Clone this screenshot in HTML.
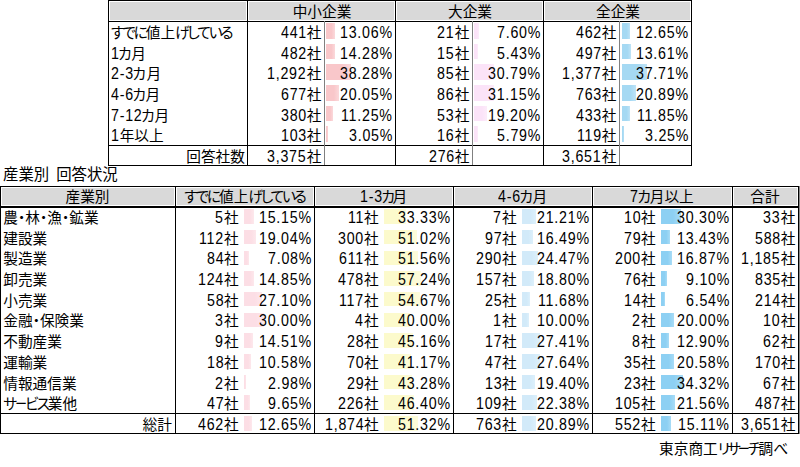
<!DOCTYPE html>
<html lang="ja"><head><meta charset="utf-8"><title>値上げ時期 回答状況</title>
<style>
html,body{margin:0;padding:0;background:#fff;}
body{width:800px;height:467px;position:relative;overflow:hidden;font-family:"Liberation Sans","Noto Sans CJK JP",sans-serif;font-size:14.67px;color:#000;font-feature-settings:"palt";}
.r{position:absolute;}
.t{position:absolute;white-space:nowrap;line-height:20px;height:20px;}
.n{font-size:15.8px;display:inline-block;letter-spacing:0.85px;transform:scaleX(0.9);transform-origin:0 0;}
.d{letter-spacing:0px;}
.cho{display:inline-block;transform:scaleX(.8);margin:0 -1.2px;}
</style></head><body>
<div class="r" style="left:110px;top:2px;width:136px;height:18px;background:#d9d9d9;"></div>
<div class="r" style="left:249px;top:2px;width:145px;height:18px;background:#d9d9d9;"></div>
<div class="r" style="left:397px;top:2px;width:145px;height:18px;background:#d9d9d9;"></div>
<div class="r" style="left:545px;top:2px;width:145px;height:18px;background:#d9d9d9;"></div>
<div class="t" style="left:172.0px;width:300px;top:2px;text-align:center;">中小企業</div>
<div class="t" style="left:320.0px;width:300px;top:2px;text-align:center;">大企業</div>
<div class="t" style="left:468.0px;width:300px;top:2px;text-align:center;">全企業</div>
<div class="t" style="left:111px;top:23px;"><span class="k" style="letter-spacing:-2.12px">すでに</span>値上<span class="k" style="letter-spacing:-2.12px">げしている</span></div>
<div class="r" style="left:326px;top:23px;width:9px;height:16px;background:#f9c7ca;background:linear-gradient(to right,#f9c7ca 0%,#f9c7ca 60%,#fbd9db 100%);"></div>
<div class="t" style="right:478.7px;top:23px;text-align:right;"><span class="n" style="margin-right:-2.89px">441</span>社</div>
<div class="t" style="right:407.3px;top:23px;text-align:right;"><span class="n" style="margin-right:-5.87px">13.06%</span></div>
<div class="r" style="left:474px;top:23px;width:5px;height:16px;background:#fbe3f8;background:linear-gradient(to right,#fbe3f8 0%,#fbe3f8 60%,#fcecfa 100%);"></div>
<div class="t" style="right:330.7px;top:23px;text-align:right;"><span class="n" style="margin-right:-1.93px">21</span>社</div>
<div class="t" style="right:259.29999999999995px;top:23px;text-align:right;"><span class="n" style="margin-right:-4.91px">7.60%</span></div>
<div class="r" style="left:622px;top:23px;width:8px;height:16px;background:#a5d9f3;background:linear-gradient(to right,#a5d9f3 0%,#a5d9f3 60%,#bfe3f6 100%);"></div>
<div class="t" style="right:183.70000000000005px;top:23px;text-align:right;"><span class="n" style="margin-right:-2.89px">462</span>社</div>
<div class="t" style="right:111.29999999999995px;top:23px;text-align:right;"><span class="n" style="margin-right:-5.87px">12.65%</span></div>
<div class="t" style="left:111px;top:44px;"><span class="n" style="margin-right:-0.96px">1</span><span class="k" style="letter-spacing:-0.5px;margin-left:-1.5px">カ</span>月</div>
<div class="r" style="left:326px;top:44px;width:9px;height:15px;background:#f9c7ca;background:linear-gradient(to right,#f9c7ca 0%,#f9c7ca 60%,#fbd9db 100%);"></div>
<div class="t" style="right:478.7px;top:44px;text-align:right;"><span class="n" style="margin-right:-2.89px">482</span>社</div>
<div class="t" style="right:407.3px;top:44px;text-align:right;"><span class="n" style="margin-right:-5.87px">14.28%</span></div>
<div class="r" style="left:474px;top:44px;width:4px;height:15px;background:#fbe3f8;background:linear-gradient(to right,#fbe3f8 0%,#fbe3f8 60%,#fcecfa 100%);"></div>
<div class="t" style="right:330.7px;top:44px;text-align:right;"><span class="n" style="margin-right:-1.93px">15</span>社</div>
<div class="t" style="right:259.29999999999995px;top:44px;text-align:right;"><span class="n" style="margin-right:-4.91px">5.43%</span></div>
<div class="r" style="left:622px;top:44px;width:9px;height:15px;background:#a5d9f3;background:linear-gradient(to right,#a5d9f3 0%,#a5d9f3 60%,#bfe3f6 100%);"></div>
<div class="t" style="right:183.70000000000005px;top:44px;text-align:right;"><span class="n" style="margin-right:-2.89px">497</span>社</div>
<div class="t" style="right:111.29999999999995px;top:44px;text-align:right;"><span class="n" style="margin-right:-5.87px">13.61%</span></div>
<div class="t" style="left:111px;top:64px;"><span class="n" style="margin-right:-2.54px">2-3</span><span class="k" style="letter-spacing:0.5px;margin-left:-1.5px">カ</span>月</div>
<div class="r" style="left:326px;top:64px;width:25px;height:16px;background:#f9c7ca;background:linear-gradient(to right,#f9c7ca 0%,#f9c7ca 60%,#fbd9db 100%);"></div>
<div class="t" style="right:478.7px;top:64px;text-align:right;"><span class="n" style="margin-right:-4.38px">1,292</span>社</div>
<div class="t" style="right:407.3px;top:64px;text-align:right;"><span class="n" style="margin-right:-5.87px">38.28%</span></div>
<div class="r" style="left:474px;top:64px;width:20px;height:16px;background:#fbe3f8;background:linear-gradient(to right,#fbe3f8 0%,#fbe3f8 60%,#fcecfa 100%);"></div>
<div class="t" style="right:330.7px;top:64px;text-align:right;"><span class="n" style="margin-right:-1.93px">85</span>社</div>
<div class="t" style="right:259.29999999999995px;top:64px;text-align:right;"><span class="n" style="margin-right:-5.87px">30.79%</span></div>
<div class="r" style="left:622px;top:64px;width:25px;height:16px;background:#a5d9f3;background:linear-gradient(to right,#a5d9f3 0%,#a5d9f3 60%,#bfe3f6 100%);"></div>
<div class="t" style="right:183.70000000000005px;top:64px;text-align:right;"><span class="n" style="margin-right:-4.38px">1,377</span>社</div>
<div class="t" style="right:111.29999999999995px;top:64px;text-align:right;"><span class="n" style="margin-right:-5.87px">37.71%</span></div>
<div class="t" style="left:111px;top:85px;"><span class="n" style="margin-right:-2.54px">4-6</span><span class="k" style="letter-spacing:-0.5px;margin-left:-1.5px">カ</span>月</div>
<div class="r" style="left:326px;top:85px;width:13px;height:16px;background:#f9c7ca;background:linear-gradient(to right,#f9c7ca 0%,#f9c7ca 60%,#fbd9db 100%);"></div>
<div class="t" style="right:478.7px;top:85px;text-align:right;"><span class="n" style="margin-right:-2.89px">677</span>社</div>
<div class="t" style="right:407.3px;top:85px;text-align:right;"><span class="n" style="margin-right:-5.87px">20.05%</span></div>
<div class="r" style="left:474px;top:85px;width:20px;height:16px;background:#fbe3f8;background:linear-gradient(to right,#fbe3f8 0%,#fbe3f8 60%,#fcecfa 100%);"></div>
<div class="t" style="right:330.7px;top:85px;text-align:right;"><span class="n" style="margin-right:-1.93px">86</span>社</div>
<div class="t" style="right:259.29999999999995px;top:85px;text-align:right;"><span class="n" style="margin-right:-5.87px">31.15%</span></div>
<div class="r" style="left:622px;top:85px;width:14px;height:16px;background:#a5d9f3;background:linear-gradient(to right,#a5d9f3 0%,#a5d9f3 60%,#bfe3f6 100%);"></div>
<div class="t" style="right:183.70000000000005px;top:85px;text-align:right;"><span class="n" style="margin-right:-2.89px">763</span>社</div>
<div class="t" style="right:111.29999999999995px;top:85px;text-align:right;"><span class="n" style="margin-right:-5.87px">20.89%</span></div>
<div class="t" style="left:111px;top:106px;"><span class="n" style="margin-right:-3.50px">7-12</span><span class="k" style="letter-spacing:-0.1px;margin-left:-1.5px">カ</span>月</div>
<div class="r" style="left:326px;top:106px;width:7px;height:15px;background:#f9c7ca;background:linear-gradient(to right,#f9c7ca 0%,#f9c7ca 60%,#fbd9db 100%);"></div>
<div class="t" style="right:478.7px;top:106px;text-align:right;"><span class="n" style="margin-right:-2.89px">380</span>社</div>
<div class="t" style="right:407.3px;top:106px;text-align:right;"><span class="n" style="margin-right:-5.87px">11.25%</span></div>
<div class="r" style="left:474px;top:106px;width:13px;height:15px;background:#fbe3f8;background:linear-gradient(to right,#fbe3f8 0%,#fbe3f8 60%,#fcecfa 100%);"></div>
<div class="t" style="right:330.7px;top:106px;text-align:right;"><span class="n" style="margin-right:-1.93px">53</span>社</div>
<div class="t" style="right:259.29999999999995px;top:106px;text-align:right;"><span class="n" style="margin-right:-5.87px">19.20%</span></div>
<div class="r" style="left:622px;top:106px;width:8px;height:15px;background:#a5d9f3;background:linear-gradient(to right,#a5d9f3 0%,#a5d9f3 60%,#bfe3f6 100%);"></div>
<div class="t" style="right:183.70000000000005px;top:106px;text-align:right;"><span class="n" style="margin-right:-2.89px">433</span>社</div>
<div class="t" style="right:111.29999999999995px;top:106px;text-align:right;"><span class="n" style="margin-right:-5.87px">11.85%</span></div>
<div class="t" style="left:111px;top:126px;"><span class="n" style="margin-right:-0.96px">1</span>年以上</div>
<div class="r" style="left:326px;top:126px;width:2px;height:16px;background:#f9c7ca;background:linear-gradient(to right,#f9c7ca 0%,#f9c7ca 60%,#fbd9db 100%);"></div>
<div class="t" style="right:478.7px;top:126px;text-align:right;"><span class="n" style="margin-right:-2.89px">103</span>社</div>
<div class="t" style="right:407.3px;top:126px;text-align:right;"><span class="n" style="margin-right:-4.91px">3.05%</span></div>
<div class="r" style="left:474px;top:126px;width:4px;height:16px;background:#fbe3f8;background:linear-gradient(to right,#fbe3f8 0%,#fbe3f8 60%,#fcecfa 100%);"></div>
<div class="t" style="right:330.7px;top:126px;text-align:right;"><span class="n" style="margin-right:-1.93px">16</span>社</div>
<div class="t" style="right:259.29999999999995px;top:126px;text-align:right;"><span class="n" style="margin-right:-4.91px">5.79%</span></div>
<div class="r" style="left:622px;top:126px;width:2px;height:16px;background:#a5d9f3;background:linear-gradient(to right,#a5d9f3 0%,#a5d9f3 60%,#bfe3f6 100%);"></div>
<div class="t" style="right:183.70000000000005px;top:126px;text-align:right;"><span class="n" style="margin-right:-2.89px">119</span>社</div>
<div class="t" style="right:111.29999999999995px;top:126px;text-align:right;"><span class="n" style="margin-right:-4.91px">3.25%</span></div>
<div class="t" style="right:555.1px;top:147px;text-align:right;">回答社数</div>
<div class="t" style="right:478.7px;top:147px;text-align:right;"><span class="n" style="margin-right:-4.38px">3,375</span>社</div>
<div class="t" style="right:330.7px;top:147px;text-align:right;"><span class="n" style="margin-right:-2.89px">276</span>社</div>
<div class="t" style="right:183.70000000000005px;top:147px;text-align:right;"><span class="n" style="margin-right:-4.38px">3,651</span>社</div>
<div class="r" style="left:108px;top:0px;width:584px;height:1px;background:#000;"></div>
<div class="r" style="left:108px;top:21px;width:584px;height:1px;background:#000;"></div>
<div class="r" style="left:108px;top:145px;width:584px;height:1px;background:#000;"></div>
<div class="r" style="left:108px;top:165px;width:584px;height:1px;background:#000;"></div>
<div class="r" style="left:108px;top:0px;width:1px;height:166px;background:#000;"></div>
<div class="r" style="left:247px;top:0px;width:1px;height:166px;background:#000;"></div>
<div class="r" style="left:395px;top:0px;width:1px;height:166px;background:#000;"></div>
<div class="r" style="left:543px;top:0px;width:1px;height:166px;background:#000;"></div>
<div class="r" style="left:691px;top:0px;width:1px;height:166px;background:#000;"></div>
<div class="r" style="left:324px;top:21px;width:1px;height:144px;background:#808080;"></div>
<div class="r" style="left:472px;top:21px;width:1px;height:144px;background:#808080;"></div>
<div class="r" style="left:619px;top:21px;width:1px;height:144px;background:#808080;"></div>
<div class="t" style="left:3px;top:165px;font-size:15.4px;">産業別<span style="display:inline-block;width:7px"></span>回答状況</div>
<div class="r" style="left:2px;top:188px;width:172px;height:17px;background:#d9d9d9;"></div>
<div class="r" style="left:177px;top:188px;width:136px;height:17px;background:#d9d9d9;"></div>
<div class="r" style="left:316px;top:188px;width:136px;height:17px;background:#d9d9d9;"></div>
<div class="r" style="left:455px;top:188px;width:136px;height:17px;background:#d9d9d9;"></div>
<div class="r" style="left:594px;top:188px;width:137px;height:17px;background:#d9d9d9;"></div>
<div class="r" style="left:734px;top:188px;width:63px;height:17px;background:#d9d9d9;"></div>
<div class="t" style="left:-62.5px;width:300px;top:187px;text-align:center;">産業別</div>
<div class="t" style="left:94.5px;width:300px;top:187px;text-align:center;"><span class="k" style="letter-spacing:-2.12px">すでに</span>値上<span class="k" style="letter-spacing:-2.12px">げしている</span></div>
<div class="t" style="left:233.5px;width:300px;top:187px;text-align:center;"><span class="n" style="margin-right:-2.54px">1-3</span><span class="k" style="letter-spacing:-2.5px;margin-left:-1.5px">カ</span>月</div>
<div class="t" style="left:372.5px;width:300px;top:187px;text-align:center;"><span class="n" style="margin-right:-2.54px">4-6</span><span class="k" style="letter-spacing:-0.5px;margin-left:-1.5px">カ</span>月</div>
<div class="t" style="left:512.0px;width:300px;top:187px;text-align:center;"><span class="n" style="margin-right:-0.96px">7</span><span class="k" style="letter-spacing:-1.2px;margin-left:-1.5px">カ</span>月以上</div>
<div class="t" style="left:615.0px;width:300px;top:187px;text-align:center;">合計</div>
<div class="t" style="left:3.3px;top:208px;">農<span class="d">・</span>林<span class="d">・</span>漁<span class="d">・</span>鉱業</div>
<div class="r" style="left:244px;top:209px;width:10px;height:15px;background:#fcdee5;background:linear-gradient(to right,#fcdee5 0%,#fcdee5 60%,#fde8ec 100%);"></div>
<div class="t" style="right:561.4px;top:208px;text-align:right;"><span class="n" style="margin-right:-0.96px">5</span>社</div>
<div class="t" style="right:488.1px;top:208px;text-align:right;"><span class="n" style="margin-right:-5.87px">15.15%</span></div>
<div class="r" style="left:384px;top:209px;width:22px;height:15px;background:#fcfacc;background:linear-gradient(to right,#fcfacc 0%,#fcfacc 60%,#fdfcdc 100%);"></div>
<div class="t" style="right:421.4px;top:208px;text-align:right;"><span class="n" style="margin-right:-1.93px">11</span>社</div>
<div class="t" style="right:349.1px;top:208px;text-align:right;"><span class="n" style="margin-right:-5.87px">33.33%</span></div>
<div class="r" style="left:522px;top:209px;width:14px;height:15px;background:#d2eaf9;background:linear-gradient(to right,#d2eaf9 0%,#d2eaf9 60%,#ddf0fb 100%);"></div>
<div class="t" style="right:283.4px;top:208px;text-align:right;"><span class="n" style="margin-right:-0.96px">7</span>社</div>
<div class="t" style="right:210.10000000000002px;top:208px;text-align:right;"><span class="n" style="margin-right:-5.87px">21.21%</span></div>
<div class="r" style="left:661px;top:209px;width:20px;height:15px;background:#8dd0f3;background:linear-gradient(to right,#8dd0f3 0%,#8dd0f3 60%,#a9dcf6 100%);"></div>
<div class="t" style="right:144.39999999999998px;top:208px;text-align:right;"><span class="n" style="margin-right:-1.93px">10</span>社</div>
<div class="t" style="right:70.10000000000002px;top:208px;text-align:right;"><span class="n" style="margin-right:-5.87px">30.30%</span></div>
<div class="t" style="right:4.600000000000023px;top:208px;text-align:right;"><span class="n" style="margin-right:-1.93px">33</span>社</div>
<div class="t" style="left:3.3px;top:229px;">建設業</div>
<div class="r" style="left:244px;top:230px;width:12px;height:14px;background:#fcdee5;background:linear-gradient(to right,#fcdee5 0%,#fcdee5 60%,#fde8ec 100%);"></div>
<div class="t" style="right:561.4px;top:229px;text-align:right;"><span class="n" style="margin-right:-2.89px">112</span>社</div>
<div class="t" style="right:488.1px;top:229px;text-align:right;"><span class="n" style="margin-right:-5.87px">19.04%</span></div>
<div class="r" style="left:384px;top:230px;width:33px;height:14px;background:#fcfacc;background:linear-gradient(to right,#fcfacc 0%,#fcfacc 60%,#fdfcdc 100%);"></div>
<div class="t" style="right:421.4px;top:229px;text-align:right;"><span class="n" style="margin-right:-2.89px">300</span>社</div>
<div class="t" style="right:349.1px;top:229px;text-align:right;"><span class="n" style="margin-right:-5.87px">51.02%</span></div>
<div class="r" style="left:522px;top:230px;width:11px;height:14px;background:#d2eaf9;background:linear-gradient(to right,#d2eaf9 0%,#d2eaf9 60%,#ddf0fb 100%);"></div>
<div class="t" style="right:283.4px;top:229px;text-align:right;"><span class="n" style="margin-right:-1.93px">97</span>社</div>
<div class="t" style="right:210.10000000000002px;top:229px;text-align:right;"><span class="n" style="margin-right:-5.87px">16.49%</span></div>
<div class="r" style="left:661px;top:230px;width:9px;height:14px;background:#8dd0f3;background:linear-gradient(to right,#8dd0f3 0%,#8dd0f3 60%,#a9dcf6 100%);"></div>
<div class="t" style="right:144.39999999999998px;top:229px;text-align:right;"><span class="n" style="margin-right:-1.93px">79</span>社</div>
<div class="t" style="right:70.10000000000002px;top:229px;text-align:right;"><span class="n" style="margin-right:-5.87px">13.43%</span></div>
<div class="t" style="right:4.600000000000023px;top:229px;text-align:right;"><span class="n" style="margin-right:-2.89px">588</span>社</div>
<div class="t" style="left:3.3px;top:249px;">製造業</div>
<div class="r" style="left:244px;top:251px;width:5px;height:14px;background:#fcdee5;background:linear-gradient(to right,#fcdee5 0%,#fcdee5 60%,#fde8ec 100%);"></div>
<div class="t" style="right:561.4px;top:249px;text-align:right;"><span class="n" style="margin-right:-1.93px">84</span>社</div>
<div class="t" style="right:488.1px;top:249px;text-align:right;"><span class="n" style="margin-right:-4.91px">7.08%</span></div>
<div class="r" style="left:384px;top:251px;width:34px;height:14px;background:#fcfacc;background:linear-gradient(to right,#fcfacc 0%,#fcfacc 60%,#fdfcdc 100%);"></div>
<div class="t" style="right:421.4px;top:249px;text-align:right;"><span class="n" style="margin-right:-2.89px">611</span>社</div>
<div class="t" style="right:349.1px;top:249px;text-align:right;"><span class="n" style="margin-right:-5.87px">51.56%</span></div>
<div class="r" style="left:522px;top:251px;width:16px;height:14px;background:#d2eaf9;background:linear-gradient(to right,#d2eaf9 0%,#d2eaf9 60%,#ddf0fb 100%);"></div>
<div class="t" style="right:283.4px;top:249px;text-align:right;"><span class="n" style="margin-right:-2.89px">290</span>社</div>
<div class="t" style="right:210.10000000000002px;top:249px;text-align:right;"><span class="n" style="margin-right:-5.87px">24.47%</span></div>
<div class="r" style="left:661px;top:251px;width:11px;height:14px;background:#8dd0f3;background:linear-gradient(to right,#8dd0f3 0%,#8dd0f3 60%,#a9dcf6 100%);"></div>
<div class="t" style="right:144.39999999999998px;top:249px;text-align:right;"><span class="n" style="margin-right:-2.89px">200</span>社</div>
<div class="t" style="right:70.10000000000002px;top:249px;text-align:right;"><span class="n" style="margin-right:-5.87px">16.87%</span></div>
<div class="t" style="right:4.600000000000023px;top:249px;text-align:right;"><span class="n" style="margin-right:-4.38px">1,185</span>社</div>
<div class="t" style="left:3.3px;top:270px;">卸売業</div>
<div class="r" style="left:244px;top:271px;width:10px;height:15px;background:#fcdee5;background:linear-gradient(to right,#fcdee5 0%,#fcdee5 60%,#fde8ec 100%);"></div>
<div class="t" style="right:561.4px;top:270px;text-align:right;"><span class="n" style="margin-right:-2.89px">124</span>社</div>
<div class="t" style="right:488.1px;top:270px;text-align:right;"><span class="n" style="margin-right:-5.87px">14.85%</span></div>
<div class="r" style="left:384px;top:271px;width:37px;height:15px;background:#fcfacc;background:linear-gradient(to right,#fcfacc 0%,#fcfacc 60%,#fdfcdc 100%);"></div>
<div class="t" style="right:421.4px;top:270px;text-align:right;"><span class="n" style="margin-right:-2.89px">478</span>社</div>
<div class="t" style="right:349.1px;top:270px;text-align:right;"><span class="n" style="margin-right:-5.87px">57.24%</span></div>
<div class="r" style="left:522px;top:271px;width:12px;height:15px;background:#d2eaf9;background:linear-gradient(to right,#d2eaf9 0%,#d2eaf9 60%,#ddf0fb 100%);"></div>
<div class="t" style="right:283.4px;top:270px;text-align:right;"><span class="n" style="margin-right:-2.89px">157</span>社</div>
<div class="t" style="right:210.10000000000002px;top:270px;text-align:right;"><span class="n" style="margin-right:-5.87px">18.80%</span></div>
<div class="r" style="left:661px;top:271px;width:6px;height:15px;background:#8dd0f3;background:linear-gradient(to right,#8dd0f3 0%,#8dd0f3 60%,#a9dcf6 100%);"></div>
<div class="t" style="right:144.39999999999998px;top:270px;text-align:right;"><span class="n" style="margin-right:-1.93px">76</span>社</div>
<div class="t" style="right:70.10000000000002px;top:270px;text-align:right;"><span class="n" style="margin-right:-4.91px">9.10%</span></div>
<div class="t" style="right:4.600000000000023px;top:270px;text-align:right;"><span class="n" style="margin-right:-2.89px">835</span>社</div>
<div class="t" style="left:3.3px;top:291px;">小売業</div>
<div class="r" style="left:244px;top:292px;width:18px;height:14px;background:#fcdee5;background:linear-gradient(to right,#fcdee5 0%,#fcdee5 60%,#fde8ec 100%);"></div>
<div class="t" style="right:561.4px;top:291px;text-align:right;"><span class="n" style="margin-right:-1.93px">58</span>社</div>
<div class="t" style="right:488.1px;top:291px;text-align:right;"><span class="n" style="margin-right:-5.87px">27.10%</span></div>
<div class="r" style="left:384px;top:292px;width:36px;height:14px;background:#fcfacc;background:linear-gradient(to right,#fcfacc 0%,#fcfacc 60%,#fdfcdc 100%);"></div>
<div class="t" style="right:421.4px;top:291px;text-align:right;"><span class="n" style="margin-right:-2.89px">117</span>社</div>
<div class="t" style="right:349.1px;top:291px;text-align:right;"><span class="n" style="margin-right:-5.87px">54.67%</span></div>
<div class="r" style="left:522px;top:292px;width:8px;height:14px;background:#d2eaf9;background:linear-gradient(to right,#d2eaf9 0%,#d2eaf9 60%,#ddf0fb 100%);"></div>
<div class="t" style="right:283.4px;top:291px;text-align:right;"><span class="n" style="margin-right:-1.93px">25</span>社</div>
<div class="t" style="right:210.10000000000002px;top:291px;text-align:right;"><span class="n" style="margin-right:-5.87px">11.68%</span></div>
<div class="r" style="left:661px;top:292px;width:4px;height:14px;background:#8dd0f3;background:linear-gradient(to right,#8dd0f3 0%,#8dd0f3 60%,#a9dcf6 100%);"></div>
<div class="t" style="right:144.39999999999998px;top:291px;text-align:right;"><span class="n" style="margin-right:-1.93px">14</span>社</div>
<div class="t" style="right:70.10000000000002px;top:291px;text-align:right;"><span class="n" style="margin-right:-4.91px">6.54%</span></div>
<div class="t" style="right:4.600000000000023px;top:291px;text-align:right;"><span class="n" style="margin-right:-2.89px">214</span>社</div>
<div class="t" style="left:3.3px;top:311px;">金融<span class="d">・</span>保険業</div>
<div class="r" style="left:244px;top:313px;width:20px;height:14px;background:#fcdee5;background:linear-gradient(to right,#fcdee5 0%,#fcdee5 60%,#fde8ec 100%);"></div>
<div class="t" style="right:561.4px;top:311px;text-align:right;"><span class="n" style="margin-right:-0.96px">3</span>社</div>
<div class="t" style="right:488.1px;top:311px;text-align:right;"><span class="n" style="margin-right:-5.87px">30.00%</span></div>
<div class="r" style="left:384px;top:313px;width:26px;height:14px;background:#fcfacc;background:linear-gradient(to right,#fcfacc 0%,#fcfacc 60%,#fdfcdc 100%);"></div>
<div class="t" style="right:421.4px;top:311px;text-align:right;"><span class="n" style="margin-right:-0.96px">4</span>社</div>
<div class="t" style="right:349.1px;top:311px;text-align:right;"><span class="n" style="margin-right:-5.87px">40.00%</span></div>
<div class="r" style="left:522px;top:313px;width:7px;height:14px;background:#d2eaf9;background:linear-gradient(to right,#d2eaf9 0%,#d2eaf9 60%,#ddf0fb 100%);"></div>
<div class="t" style="right:283.4px;top:311px;text-align:right;"><span class="n" style="margin-right:-0.96px">1</span>社</div>
<div class="t" style="right:210.10000000000002px;top:311px;text-align:right;"><span class="n" style="margin-right:-5.87px">10.00%</span></div>
<div class="r" style="left:661px;top:313px;width:13px;height:14px;background:#8dd0f3;background:linear-gradient(to right,#8dd0f3 0%,#8dd0f3 60%,#a9dcf6 100%);"></div>
<div class="t" style="right:144.39999999999998px;top:311px;text-align:right;"><span class="n" style="margin-right:-0.96px">2</span>社</div>
<div class="t" style="right:70.10000000000002px;top:311px;text-align:right;"><span class="n" style="margin-right:-5.87px">20.00%</span></div>
<div class="t" style="right:4.600000000000023px;top:311px;text-align:right;"><span class="n" style="margin-right:-1.93px">10</span>社</div>
<div class="t" style="left:3.3px;top:332px;">不動産業</div>
<div class="r" style="left:244px;top:333px;width:9px;height:15px;background:#fcdee5;background:linear-gradient(to right,#fcdee5 0%,#fcdee5 60%,#fde8ec 100%);"></div>
<div class="t" style="right:561.4px;top:332px;text-align:right;"><span class="n" style="margin-right:-0.96px">9</span>社</div>
<div class="t" style="right:488.1px;top:332px;text-align:right;"><span class="n" style="margin-right:-5.87px">14.51%</span></div>
<div class="r" style="left:384px;top:333px;width:29px;height:15px;background:#fcfacc;background:linear-gradient(to right,#fcfacc 0%,#fcfacc 60%,#fdfcdc 100%);"></div>
<div class="t" style="right:421.4px;top:332px;text-align:right;"><span class="n" style="margin-right:-1.93px">28</span>社</div>
<div class="t" style="right:349.1px;top:332px;text-align:right;"><span class="n" style="margin-right:-5.87px">45.16%</span></div>
<div class="r" style="left:522px;top:333px;width:18px;height:15px;background:#d2eaf9;background:linear-gradient(to right,#d2eaf9 0%,#d2eaf9 60%,#ddf0fb 100%);"></div>
<div class="t" style="right:283.4px;top:332px;text-align:right;"><span class="n" style="margin-right:-1.93px">17</span>社</div>
<div class="t" style="right:210.10000000000002px;top:332px;text-align:right;"><span class="n" style="margin-right:-5.87px">27.41%</span></div>
<div class="r" style="left:661px;top:333px;width:8px;height:15px;background:#8dd0f3;background:linear-gradient(to right,#8dd0f3 0%,#8dd0f3 60%,#a9dcf6 100%);"></div>
<div class="t" style="right:144.39999999999998px;top:332px;text-align:right;"><span class="n" style="margin-right:-0.96px">8</span>社</div>
<div class="t" style="right:70.10000000000002px;top:332px;text-align:right;"><span class="n" style="margin-right:-5.87px">12.90%</span></div>
<div class="t" style="right:4.600000000000023px;top:332px;text-align:right;"><span class="n" style="margin-right:-1.93px">62</span>社</div>
<div class="t" style="left:3.3px;top:353px;">運輸業</div>
<div class="r" style="left:244px;top:354px;width:7px;height:15px;background:#fcdee5;background:linear-gradient(to right,#fcdee5 0%,#fcdee5 60%,#fde8ec 100%);"></div>
<div class="t" style="right:561.4px;top:353px;text-align:right;"><span class="n" style="margin-right:-1.93px">18</span>社</div>
<div class="t" style="right:488.1px;top:353px;text-align:right;"><span class="n" style="margin-right:-5.87px">10.58%</span></div>
<div class="r" style="left:384px;top:354px;width:27px;height:15px;background:#fcfacc;background:linear-gradient(to right,#fcfacc 0%,#fcfacc 60%,#fdfcdc 100%);"></div>
<div class="t" style="right:421.4px;top:353px;text-align:right;"><span class="n" style="margin-right:-1.93px">70</span>社</div>
<div class="t" style="right:349.1px;top:353px;text-align:right;"><span class="n" style="margin-right:-5.87px">41.17%</span></div>
<div class="r" style="left:522px;top:354px;width:18px;height:15px;background:#d2eaf9;background:linear-gradient(to right,#d2eaf9 0%,#d2eaf9 60%,#ddf0fb 100%);"></div>
<div class="t" style="right:283.4px;top:353px;text-align:right;"><span class="n" style="margin-right:-1.93px">47</span>社</div>
<div class="t" style="right:210.10000000000002px;top:353px;text-align:right;"><span class="n" style="margin-right:-5.87px">27.64%</span></div>
<div class="r" style="left:661px;top:354px;width:13px;height:15px;background:#8dd0f3;background:linear-gradient(to right,#8dd0f3 0%,#8dd0f3 60%,#a9dcf6 100%);"></div>
<div class="t" style="right:144.39999999999998px;top:353px;text-align:right;"><span class="n" style="margin-right:-1.93px">35</span>社</div>
<div class="t" style="right:70.10000000000002px;top:353px;text-align:right;"><span class="n" style="margin-right:-5.87px">20.58%</span></div>
<div class="t" style="right:4.600000000000023px;top:353px;text-align:right;"><span class="n" style="margin-right:-2.89px">170</span>社</div>
<div class="t" style="left:3.3px;top:374px;">情報通信業</div>
<div class="r" style="left:244px;top:375px;width:2px;height:14px;background:#fcdee5;background:linear-gradient(to right,#fcdee5 0%,#fcdee5 60%,#fde8ec 100%);"></div>
<div class="t" style="right:561.4px;top:374px;text-align:right;"><span class="n" style="margin-right:-0.96px">2</span>社</div>
<div class="t" style="right:488.1px;top:374px;text-align:right;"><span class="n" style="margin-right:-4.91px">2.98%</span></div>
<div class="r" style="left:384px;top:375px;width:28px;height:14px;background:#fcfacc;background:linear-gradient(to right,#fcfacc 0%,#fcfacc 60%,#fdfcdc 100%);"></div>
<div class="t" style="right:421.4px;top:374px;text-align:right;"><span class="n" style="margin-right:-1.93px">29</span>社</div>
<div class="t" style="right:349.1px;top:374px;text-align:right;"><span class="n" style="margin-right:-5.87px">43.28%</span></div>
<div class="r" style="left:522px;top:375px;width:13px;height:14px;background:#d2eaf9;background:linear-gradient(to right,#d2eaf9 0%,#d2eaf9 60%,#ddf0fb 100%);"></div>
<div class="t" style="right:283.4px;top:374px;text-align:right;"><span class="n" style="margin-right:-1.93px">13</span>社</div>
<div class="t" style="right:210.10000000000002px;top:374px;text-align:right;"><span class="n" style="margin-right:-5.87px">19.40%</span></div>
<div class="r" style="left:661px;top:375px;width:22px;height:14px;background:#8dd0f3;background:linear-gradient(to right,#8dd0f3 0%,#8dd0f3 60%,#a9dcf6 100%);"></div>
<div class="t" style="right:144.39999999999998px;top:374px;text-align:right;"><span class="n" style="margin-right:-1.93px">23</span>社</div>
<div class="t" style="right:70.10000000000002px;top:374px;text-align:right;"><span class="n" style="margin-right:-5.87px">34.32%</span></div>
<div class="t" style="right:4.600000000000023px;top:374px;text-align:right;"><span class="n" style="margin-right:-1.93px">67</span>社</div>
<div class="t" style="left:3.3px;top:394px;"><span class="k" style="letter-spacing:-2.0px">サ<span class="cho">ー</span>ビス</span>業他</div>
<div class="r" style="left:244px;top:395px;width:6px;height:15px;background:#fcdee5;background:linear-gradient(to right,#fcdee5 0%,#fcdee5 60%,#fde8ec 100%);"></div>
<div class="t" style="right:561.4px;top:394px;text-align:right;"><span class="n" style="margin-right:-1.93px">47</span>社</div>
<div class="t" style="right:488.1px;top:394px;text-align:right;"><span class="n" style="margin-right:-4.91px">9.65%</span></div>
<div class="r" style="left:384px;top:395px;width:30px;height:15px;background:#fcfacc;background:linear-gradient(to right,#fcfacc 0%,#fcfacc 60%,#fdfcdc 100%);"></div>
<div class="t" style="right:421.4px;top:394px;text-align:right;"><span class="n" style="margin-right:-2.89px">226</span>社</div>
<div class="t" style="right:349.1px;top:394px;text-align:right;"><span class="n" style="margin-right:-5.87px">46.40%</span></div>
<div class="r" style="left:522px;top:395px;width:15px;height:15px;background:#d2eaf9;background:linear-gradient(to right,#d2eaf9 0%,#d2eaf9 60%,#ddf0fb 100%);"></div>
<div class="t" style="right:283.4px;top:394px;text-align:right;"><span class="n" style="margin-right:-2.89px">109</span>社</div>
<div class="t" style="right:210.10000000000002px;top:394px;text-align:right;"><span class="n" style="margin-right:-5.87px">22.38%</span></div>
<div class="r" style="left:661px;top:395px;width:14px;height:15px;background:#8dd0f3;background:linear-gradient(to right,#8dd0f3 0%,#8dd0f3 60%,#a9dcf6 100%);"></div>
<div class="t" style="right:144.39999999999998px;top:394px;text-align:right;"><span class="n" style="margin-right:-2.89px">105</span>社</div>
<div class="t" style="right:70.10000000000002px;top:394px;text-align:right;"><span class="n" style="margin-right:-5.87px">21.56%</span></div>
<div class="t" style="right:4.600000000000023px;top:394px;text-align:right;"><span class="n" style="margin-right:-2.89px">487</span>社</div>
<div class="t" style="right:628.2px;top:415px;text-align:right;">総計</div>
<div class="r" style="left:244px;top:416px;width:8px;height:15px;background:#fcdee5;background:linear-gradient(to right,#fcdee5 0%,#fcdee5 60%,#fde8ec 100%);"></div>
<div class="t" style="right:561.4px;top:415px;text-align:right;"><span class="n" style="margin-right:-2.89px">462</span>社</div>
<div class="t" style="right:488.1px;top:415px;text-align:right;"><span class="n" style="margin-right:-5.87px">12.65%</span></div>
<div class="r" style="left:384px;top:416px;width:34px;height:15px;background:#fcfacc;background:linear-gradient(to right,#fcfacc 0%,#fcfacc 60%,#fdfcdc 100%);"></div>
<div class="t" style="right:421.4px;top:415px;text-align:right;"><span class="n" style="margin-right:-4.38px">1,874</span>社</div>
<div class="t" style="right:349.1px;top:415px;text-align:right;"><span class="n" style="margin-right:-5.87px">51.32%</span></div>
<div class="r" style="left:522px;top:416px;width:14px;height:15px;background:#d2eaf9;background:linear-gradient(to right,#d2eaf9 0%,#d2eaf9 60%,#ddf0fb 100%);"></div>
<div class="t" style="right:283.4px;top:415px;text-align:right;"><span class="n" style="margin-right:-2.89px">763</span>社</div>
<div class="t" style="right:210.10000000000002px;top:415px;text-align:right;"><span class="n" style="margin-right:-5.87px">20.89%</span></div>
<div class="r" style="left:661px;top:416px;width:10px;height:15px;background:#8dd0f3;background:linear-gradient(to right,#8dd0f3 0%,#8dd0f3 60%,#a9dcf6 100%);"></div>
<div class="t" style="right:144.39999999999998px;top:415px;text-align:right;"><span class="n" style="margin-right:-2.89px">552</span>社</div>
<div class="t" style="right:70.10000000000002px;top:415px;text-align:right;"><span class="n" style="margin-right:-5.87px">15.11%</span></div>
<div class="t" style="right:4.600000000000023px;top:415px;text-align:right;"><span class="n" style="margin-right:-4.38px">3,651</span>社</div>
<div class="r" style="left:0px;top:186px;width:799px;height:1px;background:#000;"></div>
<div class="r" style="left:0px;top:413px;width:799px;height:1px;background:#000;"></div>
<div class="r" style="left:0px;top:433px;width:799px;height:1px;background:#000;"></div>
<div class="r" style="left:0px;top:206px;width:799px;height:2px;background:#000;"></div>
<div class="r" style="left:0px;top:186px;width:1px;height:248px;background:#000;"></div>
<div class="r" style="left:175px;top:186px;width:1px;height:248px;background:#000;"></div>
<div class="r" style="left:314px;top:186px;width:1px;height:248px;background:#000;"></div>
<div class="r" style="left:453px;top:186px;width:1px;height:248px;background:#000;"></div>
<div class="r" style="left:592px;top:186px;width:1px;height:248px;background:#000;"></div>
<div class="r" style="left:732px;top:186px;width:1px;height:248px;background:#000;"></div>
<div class="r" style="left:798px;top:186px;width:1px;height:248px;background:#000;"></div>
<div class="r" style="left:799px;top:186px;width:1px;height:248px;background:#8a8a8a;"></div>
<div class="t" style="right:14.399999999999977px;top:439px;text-align:right;">東京商工<span class="k" style="letter-spacing:-2.6px">リサ<span class="cho">ー</span>チ</span>調<span class="k" style="letter-spacing:-2.6px">べ</span></div>
</body></html>
